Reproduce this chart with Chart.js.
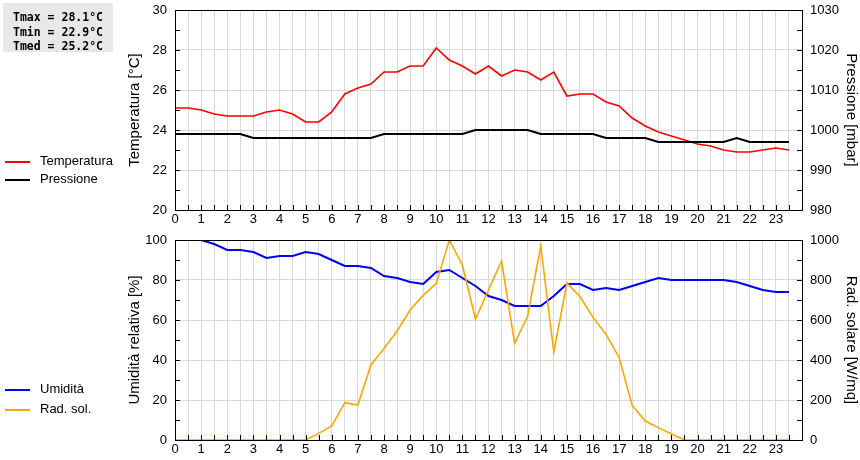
<!DOCTYPE html>
<html>
<head>
<meta charset="utf-8">
<script src="https://cdn.jsdelivr.net/npm/chart.js@4/dist/chart.umd.min.js"></script>
<style>
  body { margin: 0; background: #fff; width: 860px; height: 460px; position: relative; overflow: hidden; font-family: "Liberation Sans", Arial, sans-serif; }
  .box { position: absolute; left: 0; width: 860px; height: 230px; }
  .stats { position: absolute; left: 3px; top: 3px; width: 110px; height: 49px; background: #e8e8e8;
           font: bold 11.5px "DejaVu Sans Mono", monospace; line-height: 14.5px; padding: 0; }
  .stats div { padding-left: 10px; }
  .leg { position: absolute; left: 5px; font-size: 13px; color: #000; }
  .leg span { display: inline-block; width: 25px; height: 2px; vertical-align: middle; margin-right: 10px; }
</style>
</head>
<body>
<div class="box" style="top:0"><canvas id="topChart" width="860" height="230"></canvas></div>
<div class="box" style="top:230px"><canvas id="bottomChart" width="860" height="230"></canvas></div>

<div class="stats">
  <div style="margin-top:7px">Tmax = 28.1°C</div>
  <div>Tmin = 22.9°C</div>
  <div>Tmed = 25.2°C</div>
</div>

<div class="leg" style="top:153px"><span style="background:#ff0000"></span>Temperatura</div>
<div class="leg" style="top:171px"><span style="background:#000000"></span>Pressione</div>
<div class="leg" style="top:381px"><span style="background:#0000ff"></span>Umidità</div>
<div class="leg" style="top:401px"><span style="background:#ffa500"></span>Rad. sol.</div>

<script>
// ore del giorno (ogni mezz'ora)
let hours = [0, 0.5, 1, 1.5, 2, 2.5, 3, 3.5, 4, 4.5, 5, 5.5, 6, 6.5, 7, 7.5, 8, 8.5, 9, 9.5,
             10, 10.5, 11, 11.5, 12, 12.5, 13, 13.5, 14, 14.5, 15, 15.5, 16, 16.5, 17, 17.5,
             18, 18.5, 19, 19.5, 20, 20.5, 21, 21.5, 22, 22.5, 23, 23.5];

let temperatura = [25.1, 25.1, 25.0, 24.8, 24.7, 24.7, 24.7, 24.9, 25.0, 24.8, 24.4, 24.4,
                   24.9, 25.8, 26.1, 26.3, 26.9, 26.9, 27.2, 27.2, 28.1, 27.5, 27.2, 26.8,
                   27.2, 26.7, 27.0, 26.9, 26.5, 26.9, 25.7, 25.8, 25.8, 25.4, 25.2, 24.6,
                   24.2, 23.9, 23.7, 23.5, 23.3, 23.2, 23.0, 22.9, 22.9, 23.0, 23.1, 23.0];

let pressione = [999, 999, 999, 999, 999, 999, 998, 998, 998, 998, 998, 998,
                 998, 998, 998, 998, 999, 999, 999, 999, 999, 999, 999, 1000,
                 1000, 1000, 1000, 1000, 999, 999, 999, 999, 999, 998, 998, 998,
                 998, 997, 997, 997, 997, 997, 997, 998, 997, 997, 997, 997];

let umidita = [100, 100, 100, 98, 95, 95, 94, 91, 92, 92, 94, 93,
               90, 87, 87, 86, 82, 81, 79, 78, 84, 85, 81, 77,
               72, 70, 67, 67, 67, 72, 78, 78, 75, 76, 75, 77,
               79, 81, 80, 80, 80, 80, 80, 79, 77, 75, 74, 74];

let radiazione = [0, 0, 0, 0, 0, 0, 0, 0, 0, 0, 0, 33,
                  70, 187, 175, 375, 458, 545, 650, 723, 783, 1000, 875, 605,
                  750, 895, 483, 620, 970, 440, 785, 717, 613, 528, 412, 172,
                  95, 62, 30, 0, 0, 0, 0, 0, 0, 0, 0, 0];

function points(values){
    return hours.map((h, i) => ({ x: h, y: values[i] }));
}

const font = { family: "'Liberation Sans', Arial, sans-serif", size: 13 };
const titleFont = { family: "'Liberation Sans', Arial, sans-serif", size: 15 };

// cornice nera e tacche interne
const frameTicks = {
    id: 'frameTicks',
    afterDraw(chart){
        const c = chart.ctx;
        const a = chart.chartArea;
        c.save();
        c.strokeStyle = '#000';
        c.lineWidth = 1;
        c.beginPath();
        chart.scales.x.ticks.forEach(t => {
            const px = Math.round(chart.scales.x.getPixelForValue(t.value)) + 0.5;
            c.moveTo(px, a.bottom);
            c.lineTo(px, a.bottom - 5);
        });
        chart.scales.y.ticks.forEach(t => {
            const py = Math.round(chart.scales.y.getPixelForValue(t.value)) + 0.5;
            c.moveTo(a.left, py);
            c.lineTo(a.left + 5, py);
        });
        chart.scales.y1.ticks.forEach(t => {
            const py = Math.round(chart.scales.y1.getPixelForValue(t.value)) + 0.5;
            c.moveTo(a.right, py);
            c.lineTo(a.right - 5, py);
        });
        c.stroke();
        c.strokeRect(Math.round(a.left) + 0.5, Math.round(a.top) + 0.5,
                     Math.round(a.right - a.left), Math.round(a.bottom - a.top));
        c.restore();
    }
};

function noPad(scale){
    scale.paddingTop = 0;
    scale.paddingBottom = 0;
    scale.paddingLeft = 0;
    scale.paddingRight = 0;
}

function makeOptions(left, right){
    return {
        responsive: false,
        animation: false,
        layout: { padding: { top: 10, left: 0, right: 0, bottom: 0 } },
        plugins: { legend: { display: false }, tooltip: { enabled: false } },
        elements: { point: { radius: 0 }, line: { tension: 0 } },
        scales: {
            x: {
                type: 'linear', min: 0, max: 24,
                afterFit(scale){ scale.height = 20; noPad(scale); },
                ticks: {
                    stepSize: 0.5, autoSkip: false, maxRotation: 0, padding: 2,
                    color: '#000', font: font,
                    callback: v => (Number.isInteger(v) && v < 24) ? v : ''
                },
                grid: { color: '#d9d9d9', drawTicks: false },
                border: { display: false }
            },
            y: {
                position: 'left', min: left.min, max: left.max,
                afterFit(scale){ scale.width = 175; noPad(scale); },
                title: { display: true, text: left.title, color: '#000', font: titleFont, padding: { top: 126, bottom: 0 } },
                ticks: {
                    stepSize: left.step, autoSkip: false, padding: 8, color: '#000', font: font,
                    callback: v => (v % left.label === 0) ? v : ''
                },
                grid: {
                    drawTicks: false,
                    color: ctx => (ctx.tick && ctx.tick.value % left.label === 0) ? '#d9d9d9' : 'rgba(0,0,0,0)'
                },
                border: { display: false }
            },
            y1: {
                position: 'right', min: right.min, max: right.max,
                afterFit(scale){ scale.width = 58; noPad(scale); },
                title: { display: true, text: right.title, color: '#000', font: titleFont, padding: { top: 0, bottom: 0 } },
                ticks: {
                    stepSize: right.step, autoSkip: false, padding: 8, color: '#000', font: font,
                    callback: v => (v % right.label === 0) ? v : ''
                },
                grid: { drawOnChartArea: false, drawTicks: false },
                border: { display: false }
            }
        }
    };
}

new Chart(document.getElementById('topChart'), {
    type: 'line',
    data: {
        datasets: [
            { label: 'Pressione', data: points(pressione), yAxisID: 'y1', borderColor: '#000000', borderWidth: 2 },
            { label: 'Temperatura', data: points(temperatura), yAxisID: 'y', borderColor: '#ff0000', borderWidth: 1.6 }
        ]
    },
    options: makeOptions(
        { min: 20, max: 30, step: 1, label: 2, title: 'Temperatura [°C]' },
        { min: 980, max: 1030, step: 5, label: 10, title: 'Pressione [mbar]' }
    ),
    plugins: [frameTicks]
});

new Chart(document.getElementById('bottomChart'), {
    type: 'line',
    data: {
        datasets: [
            { label: 'Rad. sol.', data: points(radiazione), yAxisID: 'y1', borderColor: '#ffa500', borderWidth: 1.6 },
            { label: 'Umidità', data: points(umidita), yAxisID: 'y', borderColor: '#0000ff', borderWidth: 2 }
        ]
    },
    options: makeOptions(
        { min: 0, max: 100, step: 10, label: 20, title: 'Umidità relativa [%]' },
        { min: 0, max: 1000, step: 100, label: 200, title: 'Rad. solare [W/mq]' }
    ),
    plugins: [frameTicks]
});
</script>
</body>
</html>
